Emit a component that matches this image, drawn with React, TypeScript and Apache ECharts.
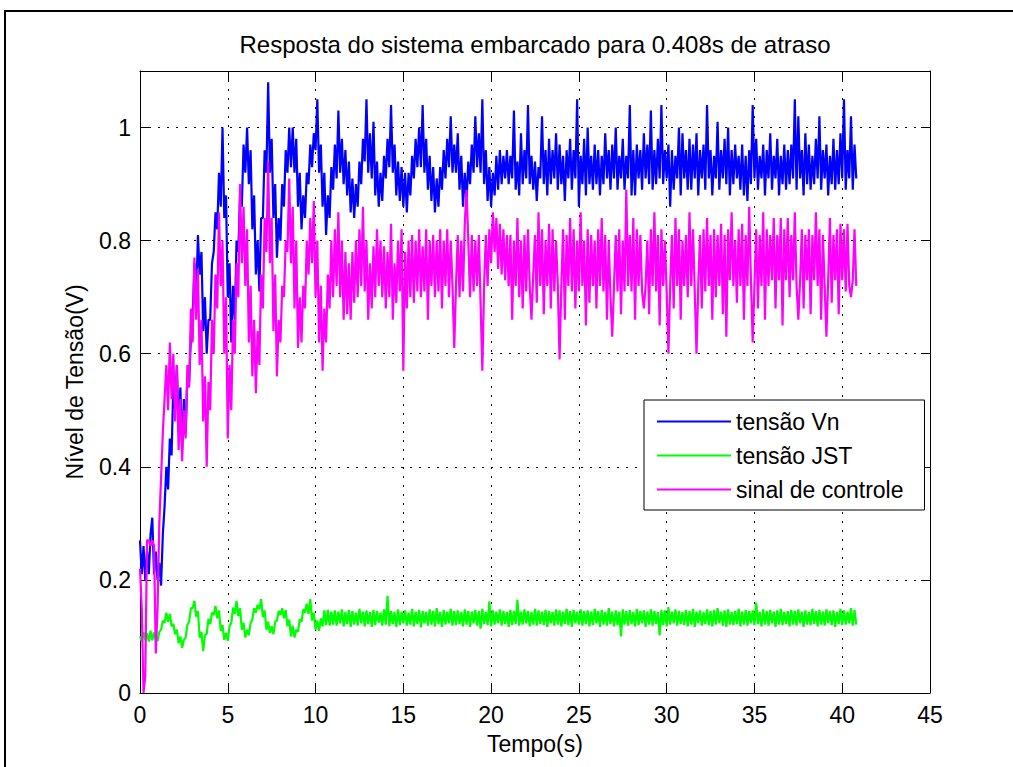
import React, { useEffect, useRef } from "react";
import * as echarts from "echarts";

const TITLE = "Resposta do sistema embarcado para 0.408s de atraso";
const X_NAME = "Tempo(s)";
const Y_NAME = "Nível de Tensão(V)";
const SERIES_NAMES = ["tensão Vn", "tensão JST", "sinal de controle"];
const SERIES_COLORS = ["#0000ff", "#00ff00", "#ff00ff"];
const X_MIN = 0;
const X_MAX = 45;
const X_STEP = 5;
const Y_MIN = 0;
const Y_MAX = 1.1;
const Y_STEP = 0.2;
// sampling period of the recorded signals (s)
const SAMPLE_STEP = 0.1;

// tensão Vn, one value per 0.1 s from t = 0 to 40.8 s
const tensaoVn = [
  0.27,0.21,0.26,0.20,0.25,0.21,0.28,0.31,0.21,0.25,
  0.20,0.23,0.19,0.28,0.33,0.40,0.36,0.45,0.42,0.55,
  0.50,0.58,0.46,0.54,0.43,0.52,0.46,0.56,0.55,0.63,
  0.66,0.76,0.70,0.81,0.74,0.78,0.64,0.70,0.60,0.66,
  0.66,0.76,0.78,0.85,0.82,0.92,0.86,1.00,0.84,0.88,
  0.70,0.76,0.62,0.72,0.66,0.80,0.78,0.88,0.86,0.97,
  0.92,1.00,0.90,0.96,0.82,0.88,0.74,0.80,0.71,0.84,
  0.84,0.96,0.92,1.08,0.92,0.98,0.84,0.90,0.77,0.84,
  0.80,0.90,0.86,0.96,0.92,1.00,0.93,1.00,0.92,0.98,
  0.86,0.92,0.82,0.88,0.84,0.92,0.90,0.97,0.93,0.99,
  0.96,1.05,0.92,0.97,0.86,0.92,0.81,0.88,0.84,0.93,
  0.89,0.97,0.91,1.03,0.92,0.98,0.90,0.96,0.88,0.94,
  0.85,0.91,0.84,0.90,0.86,0.94,0.90,0.98,0.94,1.05,
  0.92,0.99,0.91,1.01,0.88,0.94,0.86,0.92,0.87,0.95,
  0.91,0.98,0.93,1.04,0.92,0.97,0.88,0.94,0.87,0.93,
  0.86,0.92,0.85,0.92,0.88,0.95,0.91,0.98,0.93,1.00,
  0.93,1.04,0.92,0.98,0.89,0.95,0.87,0.93,0.85,0.91,
  0.86,0.93,0.89,0.96,0.91,0.98,0.93,1.02,0.92,0.97,
  0.92,0.99,0.89,0.95,0.86,0.92,0.87,0.94,0.90,0.97,
  0.92,1.02,0.93,0.99,0.92,1.05,0.90,0.96,0.87,0.93,
  0.86,0.92,0.88,0.95,0.89,0.96,0.90,0.95,0.91,0.96,
  0.90,0.95,0.91,1.03,0.89,0.94,0.88,0.99,0.90,0.96,
  0.91,1.04,0.90,0.95,0.89,0.94,0.87,0.93,0.91,1.02,
  0.90,0.96,0.88,0.98,0.90,0.96,0.91,0.99,0.89,0.97,
  0.90,0.95,0.87,0.96,0.91,0.98,0.89,0.96,0.91,1.05,
  0.86,0.95,0.90,0.98,0.88,1.00,0.90,0.95,0.89,0.97,
  0.90,0.96,0.88,0.95,0.90,0.99,0.91,0.96,0.89,0.97,
  0.91,1.00,0.89,0.95,0.91,0.98,0.89,0.95,0.91,1.04,
  0.88,0.96,0.88,0.97,0.91,0.96,0.89,0.99,0.91,0.97,
  0.90,1.03,0.89,0.96,0.90,0.98,0.91,1.04,0.90,0.96,
  0.91,0.97,0.86,0.96,0.89,0.95,0.91,1.00,0.88,0.99,
  0.91,0.96,0.89,0.98,0.89,0.97,0.91,0.99,0.88,0.96,
  0.91,0.97,0.89,1.04,0.91,0.96,0.88,0.95,0.91,1.01,
  0.89,0.96,0.91,0.98,0.90,1.00,0.88,0.96,0.90,0.97,
  0.91,0.95,0.89,0.97,0.88,0.95,0.87,0.96,0.90,1.04,
  0.91,0.98,0.89,0.95,0.91,0.97,0.88,0.96,0.91,0.99,
  0.89,0.95,0.91,0.98,0.88,0.95,0.90,0.97,0.89,0.96,
  0.90,0.97,0.91,1.05,0.89,1.02,0.91,0.96,0.88,0.99,
  0.90,0.97,0.89,0.95,0.90,0.98,0.91,1.02,0.89,0.96,
  0.91,0.97,0.88,0.95,0.90,0.98,0.89,0.96,0.90,0.99,
  0.91,1.05,0.89,0.96,0.91,1.02,0.89,0.97,0.91,
];

// tensão JST
const tensaoJST = [
  0.100,0.092,0.108,0.094,0.106,0.091,0.110,0.093,0.107,0.095,
  0.092,0.108,0.112,0.128,0.124,0.142,0.126,0.140,0.118,0.122,
  0.104,0.112,0.088,0.100,0.080,0.094,0.098,0.121,0.126,0.150,
  0.150,0.163,0.135,0.145,0.098,0.108,0.074,0.103,0.104,0.131,
  0.122,0.142,0.138,0.154,0.132,0.146,0.110,0.120,0.094,0.106,
  0.092,0.118,0.124,0.151,0.140,0.163,0.136,0.150,0.112,0.124,
  0.098,0.112,0.102,0.124,0.130,0.150,0.142,0.156,0.148,0.166,
  0.134,0.146,0.112,0.126,0.106,0.118,0.104,0.126,0.128,0.145,
  0.138,0.150,0.132,0.147,0.118,0.130,0.100,0.119,0.098,0.112,
  0.108,0.130,0.126,0.148,0.142,0.158,0.140,0.166,0.128,0.142,
  0.112,0.128,0.110,0.132,0.118,0.146,0.120,0.147,0.119,0.144,
  0.121,0.146,0.119,0.144,0.123,0.148,0.118,0.143,0.122,0.147,
  0.117,0.145,0.121,0.142,0.119,0.149,0.123,0.144,0.118,0.146,
  0.122,0.143,0.117,0.147,0.120,0.145,0.124,0.142,0.119,0.148,
  0.121,0.172,0.118,0.145,0.122,0.143,0.117,0.148,0.120,0.144,
  0.123,0.146,0.119,0.142,0.121,0.149,0.118,0.144,0.122,0.147,
  0.116,0.145,0.123,0.143,0.119,0.148,0.121,0.145,0.118,0.150,
  0.122,0.143,0.117,0.147,0.121,0.144,0.123,0.149,0.119,0.145,
  0.120,0.146,0.122,0.143,0.118,0.148,0.121,0.145,0.117,0.144,
  0.123,0.147,0.119,0.145,0.114,0.149,0.122,0.143,0.120,0.162,
  0.118,0.146,0.121,0.144,0.123,0.148,0.119,0.145,0.122,0.143,
  0.117,0.147,0.120,0.145,0.122,0.165,0.119,0.144,0.121,0.148,
  0.123,0.145,0.118,0.143,0.121,0.149,0.119,0.146,0.122,0.144,
  0.120,0.147,0.117,0.145,0.123,0.143,0.119,0.148,0.121,0.146,
  0.118,0.144,0.122,0.149,0.120,0.145,0.117,0.147,0.123,0.143,
  0.121,0.148,0.119,0.145,0.122,0.146,0.118,0.144,0.120,0.149,
  0.123,0.145,0.117,0.147,0.121,0.143,0.119,0.150,0.122,0.144,
  0.118,0.146,0.120,0.144,0.100,0.148,0.121,0.145,0.119,0.147,
  0.122,0.143,0.118,0.149,0.120,0.145,0.123,0.146,0.117,0.144,
  0.121,0.148,0.119,0.145,0.122,0.143,0.102,0.147,0.120,0.146,
  0.118,0.152,0.121,0.144,0.123,0.148,0.119,0.145,0.122,0.143,
  0.120,0.147,0.118,0.145,0.121,0.149,0.117,0.144,0.123,0.146,
  0.119,0.143,0.122,0.148,0.120,0.145,0.118,0.147,0.121,0.150,
  0.123,0.144,0.119,0.146,0.117,0.148,0.121,0.143,0.120,0.145,
  0.122,0.149,0.118,0.144,0.121,0.147,0.119,0.145,0.123,0.146,
  0.120,0.160,0.122,0.143,0.118,0.148,0.121,0.145,0.119,0.147,
  0.123,0.144,0.117,0.146,0.121,0.149,0.120,0.143,0.122,0.145,
  0.118,0.147,0.121,0.145,0.119,0.148,0.123,0.144,0.117,0.146,
  0.121,0.143,0.120,0.149,0.122,0.145,0.118,0.147,0.121,0.144,
  0.119,0.148,0.123,0.145,0.120,0.146,0.117,0.143,0.122,0.149,
  0.120,0.146,0.121,0.144,0.123,0.150,0.119,0.147,0.121,
];

// sinal de controle
const sinalControle = [
  0.22,0.15,0.00,0.03,0.27,0.27,0.26,0.27,0.26,0.07,
  0.15,0.30,0.38,0.46,0.52,0.58,0.50,0.62,0.52,0.60,
  0.48,0.58,0.43,0.52,0.41,0.50,0.45,0.58,0.54,0.68,
  0.62,0.77,0.66,0.75,0.58,0.66,0.48,0.56,0.40,0.55,
  0.50,0.66,0.60,0.74,0.68,0.85,0.72,0.80,0.60,0.70,
  0.45,0.58,0.50,0.66,0.60,0.76,0.70,0.90,0.76,0.86,
  0.72,0.82,0.62,0.72,0.56,0.66,0.53,0.64,0.58,0.74,
  0.68,0.84,0.78,0.94,0.76,0.84,0.64,0.74,0.56,0.66,
  0.62,0.72,0.70,0.80,0.78,0.91,0.76,0.86,0.68,0.80,
  0.61,0.70,0.62,0.72,0.68,0.80,0.74,0.84,0.76,0.87,
  0.70,0.80,0.62,0.72,0.57,0.68,0.62,0.74,0.68,0.80,
  0.70,0.82,0.72,0.85,0.70,0.80,0.66,0.78,0.67,0.76,
  0.66,0.78,0.69,0.80,0.70,0.82,0.72,0.86,0.71,0.80,
  0.66,0.76,0.68,0.79,0.70,0.82,0.72,0.80,0.70,0.79,
  0.68,0.78,0.70,0.83,0.66,0.76,0.69,0.80,0.71,0.82,
  0.57,0.78,0.68,0.80,0.70,0.81,0.69,0.80,0.71,0.82,
  0.70,0.79,0.71,0.82,0.66,0.80,0.72,0.81,0.70,0.80,
  0.71,0.82,0.68,0.80,0.72,0.82,0.70,0.80,0.72,0.61,
  0.72,0.81,0.70,0.80,0.71,0.83,0.89,0.80,0.70,0.81,
  0.71,0.80,0.72,0.81,0.69,0.57,0.72,0.81,0.72,0.82,
  0.76,0.85,0.78,0.84,0.75,0.83,0.74,0.82,0.73,0.81,
  0.72,0.81,0.66,0.80,0.72,0.84,0.70,0.80,0.68,0.81,
  0.71,0.82,0.72,0.66,0.74,0.81,0.69,0.85,0.72,0.82,
  0.67,0.80,0.72,0.83,0.68,0.82,0.71,0.80,0.72,0.59,
  0.72,0.82,0.66,0.81,0.72,0.84,0.71,0.82,0.68,0.80,
  0.71,0.85,0.72,0.80,0.65,0.82,0.69,0.81,0.72,0.80,
  0.68,0.82,0.72,0.84,0.71,0.81,0.66,0.80,0.70,0.63,
  0.72,0.81,0.71,0.82,0.67,0.80,0.71,0.89,0.72,0.81,
  0.71,0.84,0.66,0.82,0.72,0.81,0.71,0.68,0.72,0.80,
  0.67,0.82,0.72,0.85,0.71,0.81,0.65,0.82,0.72,0.80,
  0.71,0.60,0.72,0.81,0.68,0.84,0.72,0.82,0.66,0.80,
  0.72,0.81,0.70,0.85,0.72,0.82,0.71,0.60,0.72,0.81,
  0.68,0.82,0.71,0.84,0.72,0.81,0.66,0.82,0.70,0.81,
  0.72,0.83,0.67,0.81,0.63,0.82,0.73,0.85,0.72,0.80,
  0.69,0.82,0.72,0.83,0.66,0.81,0.72,0.86,0.73,0.62,
  0.72,0.82,0.68,0.81,0.72,0.85,0.66,0.82,0.72,0.81,
  0.73,0.84,0.68,0.81,0.73,0.84,0.65,0.82,0.73,0.84,
  0.70,0.81,0.73,0.85,0.72,0.66,0.73,0.82,0.68,0.81,
  0.73,0.82,0.67,0.81,0.73,0.85,0.72,0.82,0.66,0.81,
  0.72,0.63,0.73,0.84,0.69,0.81,0.73,0.82,0.67,0.83,
  0.73,0.82,0.71,0.83,0.72,0.70,0.73,0.82,0.72,
];

const SERIES_VALUES = [tensaoVn, tensaoJST, sinalControle];

const FONT = "'Liberation Sans', Arial, Helvetica, sans-serif";

function toPairs(values: number[]) {
  return values.map((v, i) => [Math.round(i * SAMPLE_STEP * 10) / 10, v]);
}

export default function App() {
  const ref = useRef<HTMLDivElement>(null);

  useEffect(() => {
    if (!ref.current) return;
    const chart = echarts.init(ref.current, undefined, { renderer: "svg" });

    const grid = { left: 140, right: 83, top: 71, bottom: 74 };
    const gridLine = { color: "#000", width: 1, type: [2, 7] as any };
    const tickStyle = { inside: true, length: 9, lineStyle: { color: "#000", width: 1 } };
    const axisLine = { show: true, onZero: false, lineStyle: { color: "#000", width: 1 } };
    const yFmt = (v: number) => (v > 1.05 ? "" : String(Math.round(v * 10) / 10));

    const option: any = {
      animation: false,
      backgroundColor: "#fff",
      grid,
      graphic: [
        {
          type: "rect",
          shape: { x: 5, y: 11, width: 1100, height: 900 },
          style: { fill: "none", stroke: "#000", lineWidth: 2 },
          silent: true,
        },
        {
          type: "text",
          x: 535,
          y: 44,
          style: {
            text: TITLE,
            font: `24px ${FONT}`,
            fill: "#000",
            textAlign: "center",
            textVerticalAlign: "middle",
          },
        },
      ],
      legend: {
        orient: "vertical",
        left: 644,
        top: 400,
        icon: "rect",
        itemWidth: 74,
        itemHeight: 2,
        itemGap: 11,
        padding: [10, 21, 9, 13],
        borderColor: "#000",
        borderWidth: 1,
        backgroundColor: "#fff",
        textStyle: { color: "#000", fontSize: 23, fontFamily: FONT },
        data: SERIES_NAMES,
      },
      xAxis: [
        {
          type: "value",
          min: X_MIN,
          max: X_MAX,
          interval: X_STEP,
          position: "bottom",
          axisLine,
          axisTick: tickStyle,
          splitLine: { show: true, lineStyle: gridLine },
          axisLabel: { color: "#000", fontSize: 23, fontFamily: FONT, margin: 10 },
          name: X_NAME,
          nameLocation: "middle",
          nameGap: 39,
          nameTextStyle: { color: "#000", fontSize: 23, fontFamily: FONT },
        },
        {
          type: "value",
          min: X_MIN,
          max: X_MAX,
          interval: X_STEP,
          position: "top",
          axisLine,
          axisTick: tickStyle,
          splitLine: { show: false },
          axisLabel: { show: false },
        },
      ],
      yAxis: [
        {
          type: "value",
          min: Y_MIN,
          max: Y_MAX,
          interval: Y_STEP,
          position: "left",
          axisLine,
          axisTick: tickStyle,
          splitLine: { show: true, lineStyle: gridLine },
          axisLabel: { color: "#000", fontSize: 23, fontFamily: FONT, margin: 9, formatter: yFmt },
          name: Y_NAME,
          nameLocation: "middle",
          nameRotate: 90,
          nameGap: 54,
          nameTextStyle: { color: "#000", fontSize: 23, fontFamily: FONT },
        },
        {
          type: "value",
          min: Y_MIN,
          max: Y_MAX,
          interval: Y_STEP,
          position: "right",
          axisLine,
          axisTick: tickStyle,
          splitLine: { show: false },
          axisLabel: { show: false },
        },
      ],
      series: SERIES_NAMES.map((name, i) => ({
        name,
        type: "line",
        xAxisIndex: 0,
        yAxisIndex: 0,
        data: toPairs(SERIES_VALUES[i]),
        showSymbol: false,
        symbol: "none",
        lineStyle: { color: SERIES_COLORS[i], width: 2.2, join: "bevel" },
        itemStyle: { color: SERIES_COLORS[i] },
        z: 2 + i,
      })),
    };

    chart.setOption(option);
    return () => chart.dispose();
  }, []);

  return (
    <div
      ref={ref}
      style={{ position: "fixed", left: 0, top: 0, width: 1013, height: 767, background: "#fff" }}
    />
  );
}
